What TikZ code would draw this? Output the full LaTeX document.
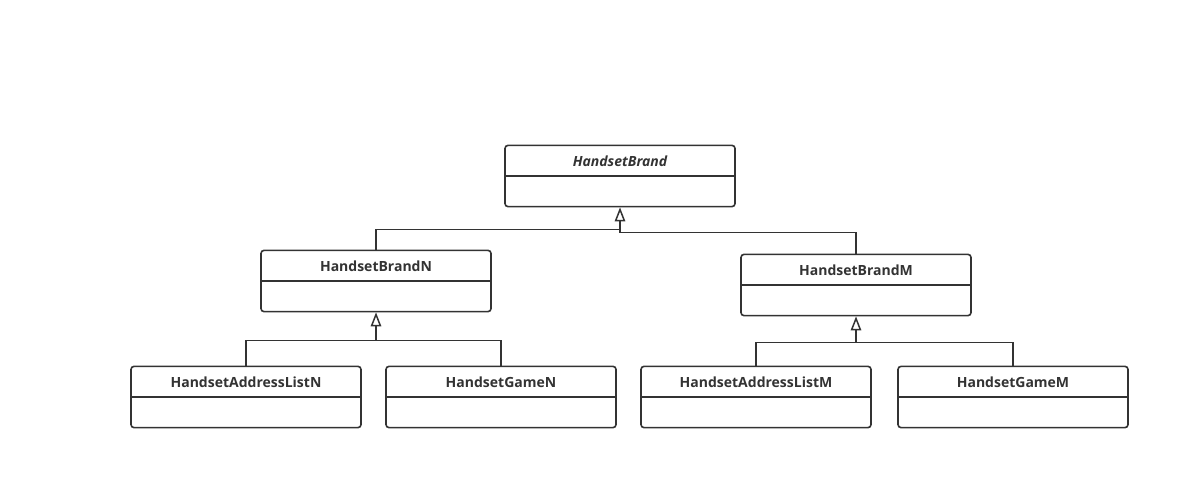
\documentclass[tikz,border=0pt]{standalone}
\usepackage{fontspec}
\setmainfont{Open Sans}
\usepackage{xcolor}
\usetikzlibrary{arrows.meta, shapes.multipart, calc, positioning}
\definecolor{umlgray}{HTML}{333333}
\newcommand{\emptypart}{\rule[-10pt]{0pt}{29pt}}
\tikzset{
  % class box style
  cls/.style={
    rectangle split, rectangle split parts=2,
    draw=umlgray, text=umlgray,
    line width=1.6pt,
    rounded corners=3pt,
    text width=222pt, align=center,
    inner xsep=4pt, inner ysep=0pt,
    text height=20pt, text depth=9pt,
    font=\fontsize{14}{16}\selectfont\bfseries
  },
  % inheritance arrow style
  garr/.style={
    draw=umlgray, line width=1.6pt
  },
  inh/.style={
    garr, -{Triangle[open, length=14pt, width=10.5pt, line width=1.5pt]}
  },
}
\begin{document}
\begin{tikzpicture}[x=1pt, y=-1pt]
  \useasboundingbox (0,0) rectangle (1190,489);
  \fill[white] (0,0) rectangle (1190,489);

  \node[cls] (brand)  at (620,176) {\itshape HandsetBrand \nodepart{two}\emptypart};
  \node[cls] (brandN) at (376,281) {HandsetBrandN \nodepart{two}\emptypart};
  \node[cls] (brandM) at (856,285) {HandsetBrandM \nodepart{two}\emptypart};
  \node[cls] (listN)  at (246,397) {HandsetAddressListN \nodepart{two}\emptypart};
  \node[cls] (gameN)  at (501,397) {HandsetGameN \nodepart{two}\emptypart};
  \node[cls] (listM)  at (756,397) {HandsetAddressListM \nodepart{two}\emptypart};
  \node[cls] (gameM)  at (1013,397) {HandsetGameM \nodepart{two}\emptypart};

  % top level
  \coordinate (jB) at ([yshift=-22pt]brand.south);
  \draw[garr] (brandN.north) |- (jB);
  \draw[garr] (brandM.north) |- ([yshift=-25pt]brand.south) -- (jB);
  \draw[inh] (jB) -- (brand.south);

  % N branch
  \coordinate (jN) at ([yshift=-28pt]brandN.south);
  \draw[garr] (listN.north) |- (jN) -| (gameN.north);
  \draw[inh] (jN) -- (brandN.south);

  % M branch
  \coordinate (jM) at ([yshift=-26pt]brandM.south);
  \draw[garr] (listM.north) |- (jM) -| (gameM.north);
  \draw[inh] (jM) -- (brandM.south);
\end{tikzpicture}
\end{document}
